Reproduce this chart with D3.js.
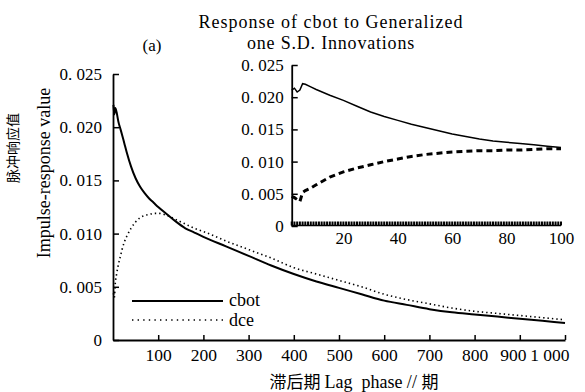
<!DOCTYPE html>
<html><head><meta charset="utf-8">
<script src="https://cdn.jsdelivr.net/npm/d3@7"></script>
<style>
body{margin:0;background:#fff}
svg{display:block}
svg text{font-family:"Liberation Serif","Times New Roman",Tinos,"DejaVu Serif",serif;fill:#000}
svg text.cn, svg tspan.cn{font-family:"Noto Sans CJK SC","Noto Sans CJK JP",sans-serif}
</style>
</head><body><svg id="c" width="585" height="392"></svg>
<script>
// ---- data ----
const mainLags = [1,3,5,8,12,16,20,25,30,40,50,60,70,80,90,100,120,140,160,180,200,250,300,350,400,450,500,550,600,650,700,750,800,850,900,950,1000];
const mainCbot = [0.0221,0.0212,0.0218,0.0214,0.0205,0.0199,0.0193,0.0185,0.0177,0.0163,0.0152,0.0144,0.0138,0.0133,0.0129,0.0125,0.0118,0.0111,0.0105,0.0101,0.0097,0.0088,0.0079,0.0070,0.0062,0.0055,0.0049,0.0043,0.0037,0.0033,0.0029,0.0026,0.0024,0.0022,0.0020,0.0018,0.0016];
const mainDce  = [0.0044,0.0040,0.0053,0.0062,0.0071,0.0078,0.0085,0.0092,0.0097,0.0105,0.0111,0.0115,0.0117,0.0118,0.0119,0.0119,0.0117,0.0113,0.0109,0.0105,0.0102,0.0093,0.0085,0.0077,0.0068,0.0062,0.0056,0.0050,0.0043,0.0038,0.0034,0.0030,0.0027,0.0025,0.0023,0.0021,0.0019];
const insetLags = [1,2,3,4,5,6,8,10,15,20,25,30,35,40,45,50,55,60,65,70,75,80,85,90,95,100];
const insetCbot = [0.0211,0.0214,0.0208,0.0211,0.0221,0.0220,0.0216,0.0212,0.0203,0.0195,0.0186,0.0177,0.0170,0.0164,0.0158,0.0153,0.0148,0.0143,0.0139,0.0135,0.0132,0.0130,0.0128,0.0126,0.0124,0.0122];
const insetDce  = [0.0046,0.0044,0.0041,0.0038,0.0052,0.0055,0.0059,0.0064,0.0076,0.0084,0.0090,0.0095,0.0100,0.0104,0.0108,0.0111,0.0113,0.0115,0.0116,0.0117,0.0117,0.0118,0.0118,0.0119,0.0120,0.0120];
const mainXTicks = [100,200,300,400,500,600,700,800,900,1000];
const mainXTickLabels = ["100","200","300","400","500","600","700","800","900","1 000"];
const yTicks = [0,0.005,0.010,0.015,0.020,0.025];
const insetXTicks = [20,40,60,80,100];
const insetDenseTicks = d3.range(1,101);
const seriesNames = ["cbot","dce"];
const titleLines = ["Response of cbot to Generalized","one S.D. Innovations"];
const panelLabel = "(a)";
const yTitleCn = "脉冲响应值";
const yTitleEn = "Impulse-response value";
const xTitleCn1 = "滞后期 ";
const xTitleEn = "Lag  phase // ";
const xTitleCn2 = "期";

// ---- drawing ----
const SERIF = '"Liberation Serif","Times New Roman",Tinos,"DejaVu Serif",serif';
const svg = d3.select("#c");
const fmtY = v => v === 0 ? "0" : d3.format(".3f")(v).replace(".", ". ");
const clean = g => { g.attr("font-family", SERIF).attr("font-size", null); g.selectAll("text").attr("fill", null).style("font-family", SERIF); };

// main scales
const x = d3.scaleLinear().domain([0,1000]).range([113,565]);
const y = d3.scaleLinear().domain([0,0.025]).range([340,74]);

// main axes
const gx = svg.append("g").attr("transform","translate(0,340)")
  .call(d3.axisBottom(x).tickValues(mainXTicks).tickSizeInner(-5).tickSizeOuter(0).tickPadding(9)
        .tickFormat((d,i)=>mainXTickLabels[i]));
clean(gx);
gx.select(".domain").attr("stroke-width",2);
gx.selectAll(".tick line").attr("stroke-width",1.5);
gx.selectAll("text").style("font-size","17.5px");
gx.selectAll(".tick").filter(d=>d===900).select("text").attr("x",-7);
gx.selectAll(".tick").filter(d=>d===1000).select("text").attr("text-anchor","end").attr("x",4);

const gy = svg.append("g").attr("transform","translate(113,0)")
  .call(d3.axisLeft(y).tickValues(yTicks).tickSizeInner(-6).tickSizeOuter(0).tickPadding(11).tickFormat(fmtY));
clean(gy);
gy.select(".domain").attr("stroke-width",1.8);
gy.selectAll(".tick line").attr("stroke-width",1.5);
gy.selectAll("text").style("font-size","17px");

// main lines
const lineMain = (vals) => d3.line().x((d,i)=>x(mainLags[i])).y(d=>y(d)).curve(d3.curveMonotoneX)(vals);
svg.append("path").attr("d",lineMain(mainDce)).attr("fill","none").attr("stroke","#000")
  .attr("stroke-width",1.6).attr("stroke-dasharray","1.4,3").attr("stroke-linecap","butt");
svg.append("path").attr("d",lineMain(mainCbot)).attr("fill","none").attr("stroke","#000")
  .attr("stroke-width",2);

// legend
svg.append("line").attr("x1",132).attr("x2",223).attr("y1",301).attr("y2",301).attr("stroke","#000").attr("stroke-width",1.8);
svg.append("line").attr("x1",132).attr("x2",223).attr("y1",320).attr("y2",320).attr("stroke","#000").attr("stroke-width",1.6).attr("stroke-dasharray","1.4,4.2");
svg.append("text").attr("x",229).attr("y",306).style("font-size","18px").text(seriesNames[0]);
svg.append("text").attr("x",229).attr("y",326).style("font-size","18px").text(seriesNames[1]);

// inset scales
const xi = d3.scaleLinear().domain([0,100]).range([289,561]);
const yi = d3.scaleLinear().domain([0,0.025]).range([226,65]);

const giy = svg.append("g").attr("transform",`translate(${xi(1)},0)`)
  .call(d3.axisLeft(yi).tickValues(yTicks).tickSizeInner(-6).tickSizeOuter(0).tickPadding(8).tickFormat(fmtY));
clean(giy);
giy.select(".domain").attr("stroke-width",1.8);
giy.selectAll(".tick line").attr("stroke-width",1.5);
giy.selectAll("text").style("font-size","17px");

// inset x axis: solid base plus a tick per lag
svg.append("line").attr("x1",xi(1)).attr("x2",xi(100)).attr("y1",225.5).attr("y2",225.5).attr("stroke","#000").attr("stroke-width",1.6);
svg.append("g").selectAll("rect").data(insetDenseTicks).join("rect")
  .attr("x",d=>xi(d)-1).attr("width",2).attr("y",221.5).attr("height",4).attr("fill","#000");
const gix = svg.append("g").attr("transform","translate(0,226)")
  .call(d3.axisBottom(xi).tickValues(insetXTicks).tickSize(0).tickPadding(6));
clean(gix);
gix.select(".domain").remove();
gix.selectAll("text").style("font-size","17px");

// inset lines
const lineInset = (vals) => d3.line().x((d,i)=>xi(insetLags[i])).y(d=>yi(d)).curve(d3.curveLinear)(vals);
svg.append("path").attr("d",lineInset(insetCbot)).attr("fill","none").attr("stroke","#000").attr("stroke-width",1.5);
svg.append("path").attr("d",lineInset(insetDce)).attr("fill","none").attr("stroke","#000")
  .attr("stroke-width",3).attr("stroke-dasharray","6,4");

// titles
svg.append("text").attr("x",331).attr("y",28).attr("text-anchor","middle").style("font-size","18px").style("letter-spacing","1px").text(titleLines[0]);
svg.append("text").attr("x",331).attr("y",49).attr("text-anchor","middle").style("font-size","18px").style("letter-spacing","0.8px").text(titleLines[1]);
svg.append("text").attr("x",152).attr("y",51).attr("text-anchor","middle").style("font-size","17px").text(panelLabel);

// y titles
svg.append("text").attr("class","cn").attr("transform","translate(18,148) rotate(-90)").attr("text-anchor","middle")
  .style("font-size","14px").text(yTitleCn);
svg.append("text").attr("transform","translate(50,173) rotate(-90)").attr("text-anchor","middle")
  .style("font-size","18px").text(yTitleEn);

// x title
const xt = svg.append("text").attr("x",354).attr("y",388).attr("text-anchor","middle").style("font-size","18px").attr("xml:space","preserve");
xt.append("tspan").attr("class","cn").style("font-size","17px").text(xTitleCn1);
xt.append("tspan").text(xTitleEn);
xt.append("tspan").attr("class","cn").style("font-size","17px").text(xTitleCn2);
</script></body></html>
